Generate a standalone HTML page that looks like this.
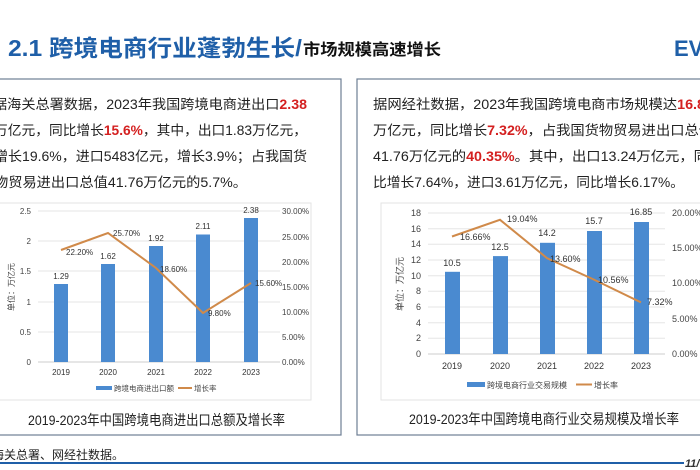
<!DOCTYPE html>
<html><head><meta charset="utf-8"><style>
body{margin:0;background:#fff;width:700px;height:470px;overflow:hidden}
svg{display:block;font-family:"Liberation Sans","Noto Sans CJK SC",sans-serif}
</style></head><body>
<svg width="700" height="470" viewBox="0 0 700 470">
<rect width="700" height="470" fill="#fff"/>
<text x="8" y="56" font-size="23" font-weight="bold" fill="#1f5fa8" textLength="294" lengthAdjust="spacingAndGlyphs">2.1 跨境电商行业蓬勃生长/</text>
<text x="303" y="55" font-size="16" font-weight="bold" fill="#111" textLength="138" lengthAdjust="spacingAndGlyphs">市场规模高速增长</text>
<text x="674" y="56" font-size="22" font-weight="bold" fill="#1f5fa8">EV</text>
<rect x="-5" y="79" width="346" height="356" fill="none" stroke="#6d7e94" stroke-width="1.2"/>
<rect x="357" y="79" width="350" height="356" fill="none" stroke="#6d7e94" stroke-width="1.2"/>
<g font-size="13.5" fill="#222">
<text x="-7" y="109" textLength="314" lengthAdjust="spacingAndGlyphs">据海关总署数据，2023年我国跨境电商进出口<tspan fill="#d42020" font-weight="bold">2.38</tspan></text>
<text x="-6" y="135" textLength="313" lengthAdjust="spacingAndGlyphs">万亿元，同比增长<tspan fill="#d42020" font-weight="bold">15.6%</tspan>，其中，出口1.83万亿元，</text>
<text x="-6" y="161" textLength="313" lengthAdjust="spacingAndGlyphs">增长19.6%，进口5483亿元，增长3.9%；占我国货</text>
<text x="-6" y="187" textLength="253" lengthAdjust="spacingAndGlyphs">物贸易进出口总值41.76万亿元的5.7%。</text>
<text x="373" y="109" textLength="340" lengthAdjust="spacingAndGlyphs">据网经社数据，2023年我国跨境电商市场规模达<tspan fill="#d42020" font-weight="bold">16.85</tspan></text>
<text x="373" y="135" textLength="340" lengthAdjust="spacingAndGlyphs">万亿元，同比增长<tspan fill="#d42020" font-weight="bold">7.32%</tspan>，占我国货物贸易进出口总值</text>
<text x="373" y="161" textLength="335" lengthAdjust="spacingAndGlyphs">41.76万亿元的<tspan fill="#d42020" font-weight="bold">40.35%</tspan>。其中，出口13.24万亿元，同</text>
<text x="373" y="187" textLength="311" lengthAdjust="spacingAndGlyphs">比增长7.64%，进口3.61万亿元，同比增长6.17%。</text>
</g>
<rect x="-2" y="203" width="313" height="197" fill="#fff" stroke="#e3e3e3"/>
<g stroke="#e6e6e6" stroke-width="1">
<line x1="38" x2="280" y1="211" y2="211"/><line x1="38" x2="280" y1="241" y2="241"/><line x1="38" x2="280" y1="271" y2="271"/><line x1="38" x2="280" y1="302" y2="302"/><line x1="38" x2="280" y1="332" y2="332"/><line x1="38" x2="280" y1="362" y2="362" stroke="#ccc"/>
</g>
<g font-size="8" fill="#444" text-anchor="end">
<text x="31" y="214">2.5</text><text x="31" y="244">2</text><text x="31" y="274">1.5</text><text x="31" y="305">1</text><text x="31" y="335">0.5</text><text x="31" y="365">0</text>
</g>
<g font-size="8" fill="#444">
<text x="282" y="214">30.00%</text><text x="282" y="240">25.00%</text><text x="282" y="265">20.00%</text><text x="282" y="290">15.00%</text><text x="282" y="315">10.00%</text><text x="282" y="340">5.00%</text><text x="282" y="365">0.00%</text>
</g>
<text x="14" y="287" font-size="8" fill="#444" transform="rotate(-90 14 287)" text-anchor="middle">单位：万亿元</text>
<g fill="#4a8ad0">
<rect x="54" y="284" width="14" height="78"/><rect x="101" y="264" width="14" height="98"/><rect x="149" y="246" width="14" height="116"/><rect x="196" y="234.5" width="14" height="127.5"/><rect x="244" y="218" width="14" height="144"/>
</g>
<g font-size="8" fill="#333" text-anchor="middle">
<text x="61" y="279">1.29</text><text x="108" y="259">1.62</text><text x="156" y="241">1.92</text><text x="203" y="229">2.11</text><text x="251" y="213">2.38</text>
<text x="61" y="375">2019</text><text x="108" y="375">2020</text><text x="156" y="375">2021</text><text x="203" y="375">2022</text><text x="251" y="375">2023</text>
</g>
<polyline points="61,250 108,233 156,268 203,313 251,283" fill="none" stroke="#d08a4a" stroke-width="2"/>
<g font-size="8" fill="#333">
<text x="66" y="255">22.20%</text><text x="113" y="236">25.70%</text><text x="160" y="272">18.60%</text><text x="208" y="316">9.80%</text><text x="255" y="286">15.60%</text>
</g>
<rect x="96" y="386" width="16" height="4" fill="#4a8ad0"/>
<text x="114" y="391" font-size="7.5" fill="#444">跨境电商进出口额</text>
<line x1="178" x2="192" y1="388" y2="388" stroke="#d08a4a" stroke-width="2"/>
<text x="194" y="391" font-size="7.5" fill="#444">增长率</text>
<text x="28" y="425" font-size="14" fill="#222" textLength="257" lengthAdjust="spacingAndGlyphs">2019-2023年中国跨境电商进出口总额及增长率</text>
<rect x="381" y="203" width="330" height="197" fill="#fff" stroke="#e3e3e3"/>
<g stroke="#e6e6e6">
<line x1="428" x2="665" y1="213" y2="213"/><line x1="428" x2="665" y1="228.7" y2="228.7"/><line x1="428" x2="665" y1="244.3" y2="244.3"/><line x1="428" x2="665" y1="260" y2="260"/><line x1="428" x2="665" y1="275.7" y2="275.7"/><line x1="428" x2="665" y1="291.3" y2="291.3"/><line x1="428" x2="665" y1="307" y2="307"/><line x1="428" x2="665" y1="322.7" y2="322.7"/><line x1="428" x2="665" y1="338.3" y2="338.3"/><line x1="428" x2="665" y1="354" y2="354" stroke="#ccc"/>
</g>
<g font-size="9" fill="#444" text-anchor="end">
<text x="421" y="216">18</text><text x="421" y="232">16</text><text x="421" y="247">14</text><text x="421" y="263">12</text><text x="421" y="279">10</text><text x="421" y="294">8</text><text x="421" y="310">6</text><text x="421" y="326">4</text><text x="421" y="341">2</text><text x="421" y="357">0</text>
</g>
<g font-size="9" fill="#444">
<text x="672" y="216">20.00%</text><text x="672" y="251">15.00%</text><text x="672" y="286">10.00%</text><text x="672" y="322">5.00%</text><text x="672" y="357">0.00%</text>
</g>
<text x="403" y="284" font-size="9" fill="#444" transform="rotate(-90 403 284)" text-anchor="middle">单位：万亿元</text>
<g fill="#4a8ad0">
<rect x="445" y="271.8" width="15" height="82.2"/><rect x="493" y="256.1" width="15" height="97.9"/><rect x="540" y="242.8" width="15" height="111.2"/><rect x="587" y="231" width="15" height="123"/><rect x="634" y="222" width="15" height="132"/>
</g>
<g font-size="9" fill="#333" text-anchor="middle">
<text x="452" y="266">10.5</text><text x="500" y="250">12.5</text><text x="547" y="236">14.2</text><text x="594" y="224">15.7</text><text x="641" y="215">16.85</text>
<text x="452" y="369">2019</text><text x="500" y="369">2020</text><text x="547" y="369">2021</text><text x="594" y="369">2022</text><text x="641" y="369">2023</text>
</g>
<polyline points="452,236.5 500,219.8 547,258.1 594,279.6 641,302.4" fill="none" stroke="#d08a4a" stroke-width="2"/>
<g font-size="9" fill="#333">
<text x="460" y="240">16.66%</text><text x="507" y="222">19.04%</text><text x="550" y="262">13.60%</text><text x="598" y="283">10.56%</text><text x="647" y="305">7.32%</text>
</g>
<rect x="467" y="382" width="18" height="5" fill="#4a8ad0"/>
<text x="487" y="388" font-size="8" fill="#444">跨境电商行业交易规模</text>
<line x1="576" x2="592" y1="384.5" y2="384.5" stroke="#d08a4a" stroke-width="2"/>
<text x="594" y="388" font-size="8" fill="#444">增长率</text>
<text x="409" y="424" font-size="14" fill="#222" textLength="270" lengthAdjust="spacingAndGlyphs">2019-2023年中国跨境电商行业交易规模及增长率</text>
<text x="-8" y="459" font-size="12" fill="#222">海关总署、网经社数据。</text>
<line x1="0" x2="684" y1="463" y2="463" stroke="#1f5fa8" stroke-width="2"/>
<text x="685" y="467" font-size="11" font-style="italic" font-weight="bold" fill="#333">11/</text>
</svg>
</body></html>
